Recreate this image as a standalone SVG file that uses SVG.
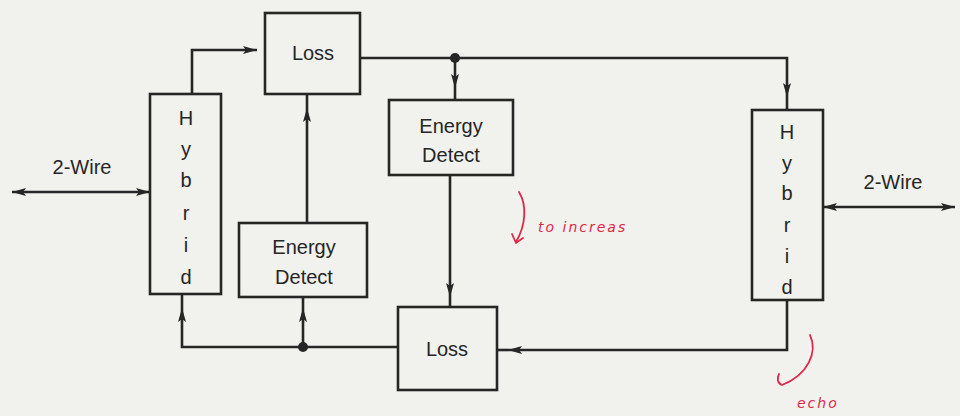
<svg xmlns="http://www.w3.org/2000/svg" width="960" height="416" viewBox="0 0 960 416">
<defs>
<marker id="ah" viewBox="0 0 14 8" refX="14" refY="4" markerWidth="14" markerHeight="8" markerUnits="userSpaceOnUse" orient="auto-start-reverse">
<path d="M0,0 L14,4 L0,8 L3,4 Z" fill="#262626"/>
</marker>
</defs>
<style>
.box{fill:none;stroke:#262626;stroke-width:2.6}
.ln{fill:none;stroke:#262626;stroke-width:2.6}
.t{font-family:"Liberation Sans",Arial,sans-serif;font-size:20px;fill:#262626;text-anchor:middle;dominant-baseline:central}
.red{font-family:"DejaVu Sans",sans-serif;font-style:italic;font-size:14px;fill:#e0284a;letter-spacing:2px}
.rc{fill:none;stroke:#e0284a;stroke-width:1.8;stroke-linecap:round}
</style>
<rect width="960" height="416" fill="#f1f1ed"/>
<g id="connectors">
<path class="ln" d="M192,95 V50 H257" marker-end="url(#ah)"/>
<path class="ln" d="M360,58 H787 V97" marker-end="url(#ah)"/>
<path class="ln" d="M787,97 V110"/>
<path class="ln" d="M455,58 V88" marker-end="url(#ah)"/>
<path class="ln" d="M455,88 V100"/>
<path class="ln" d="M450,175 V297" marker-end="url(#ah)"/>
<path class="ln" d="M450,297 V307"/>
<path class="ln" d="M307,223 V108" marker-end="url(#ah)"/>
<path class="ln" d="M307,108 V95"/>
<path class="ln" d="M787,300 V350 H508" marker-end="url(#ah)"/>
<path class="ln" d="M508,350 H497"/>
<path class="ln" d="M398,347 H182 V308" marker-end="url(#ah)"/>
<path class="ln" d="M182,308 V294"/>
<path class="ln" d="M303,347 V308" marker-end="url(#ah)"/>
<path class="ln" d="M303,308 V297"/>
<path class="ln" d="M12,192 H150" marker-start="url(#ah)" marker-end="url(#ah)"/>
<path class="ln" d="M823,207 H955" marker-start="url(#ah)" marker-end="url(#ah)"/>
<circle cx="455" cy="58" r="5" fill="#262626"/>
<circle cx="303" cy="347" r="5" fill="#262626"/>
</g>
<g id="hybrid-left">
<rect class="box" x="150" y="94" width="71" height="200"/>
<text class="t" x="186" y="118">H</text>
<text class="t" x="186" y="149">y</text>
<text class="t" x="186" y="180">b</text>
<text class="t" x="186" y="213">r</text>
<text class="t" x="186" y="245">i</text>
<text class="t" x="186" y="277">d</text>
</g>
<g id="loss-top">
<rect class="box" x="265" y="13" width="95" height="81"/>
<text class="t" x="313" y="53">Loss</text>
</g>
<g id="energy-detect-upper">
<rect class="box" x="389" y="100" width="124" height="75"/>
<text class="t" x="451" y="126">Energy</text>
<text class="t" x="451" y="155">Detect</text>
</g>
<g id="energy-detect-lower">
<rect class="box" x="239" y="223" width="128" height="74"/>
<text class="t" x="304" y="247">Energy</text>
<text class="t" x="304" y="277">Detect</text>
</g>
<g id="loss-bottom">
<rect class="box" x="398" y="307" width="99" height="83"/>
<text class="t" x="447" y="349">Loss</text>
</g>
<g id="hybrid-right">
<rect class="box" x="752" y="110" width="71" height="190"/>
<text class="t" x="787" y="132">H</text>
<text class="t" x="787" y="163">y</text>
<text class="t" x="787" y="193">b</text>
<text class="t" x="787" y="225">r</text>
<text class="t" x="787" y="256">i</text>
<text class="t" x="787" y="287">d</text>
</g>
<g id="labels">
<text class="t" x="82" y="167">2-Wire</text>
<text class="t" x="893" y="182">2-Wire</text>
</g>
<g id="annotations">
<path class="rc" d="M519,192 C527,205 526,225 516,242 M512,234 L516,243 L523,238"/>
<text class="red" x="538" y="232">to increas</text>
<path class="rc" d="M810,335 C818,352 808,375 782,385 C777,383 777,378 779,374"/>
<text class="red" x="797" y="408">echo</text>
</g>
</svg>
